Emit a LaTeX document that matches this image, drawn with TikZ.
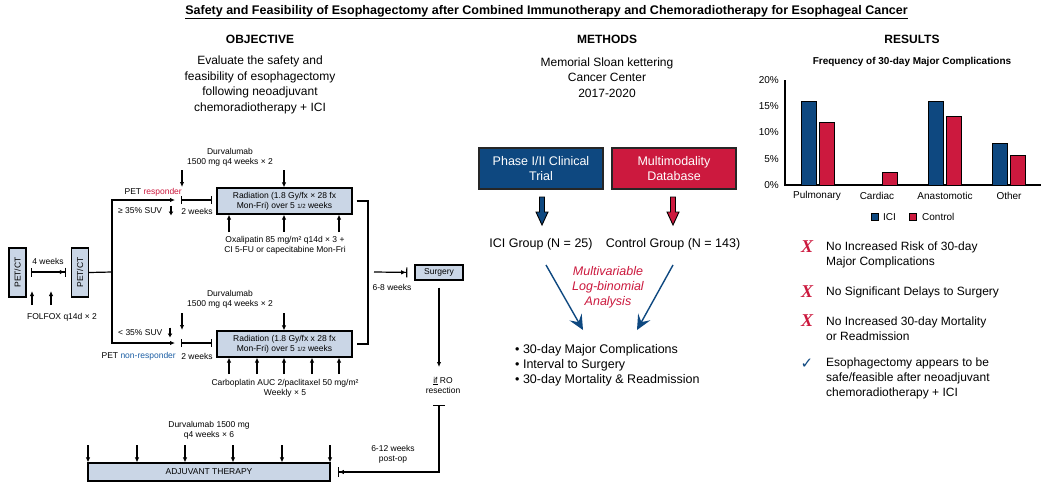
\documentclass[tikz,border=0pt]{standalone}
\usepackage{fontspec}
\setmainfont{Liberation Sans}
\newfontfamily\serifx{Liberation Serif}
\newfontfamily\dejavu{DejaVu Sans}
\usetikzlibrary{arrows.meta}
\definecolor{myblue}{RGB}{14,72,128}
\definecolor{myred}{RGB}{204,25,62}
\definecolor{lightfill}{RGB}{202,214,230}
\definecolor{nrblue}{RGB}{28,95,165}
\newcommand\fsz[2]{\fontsize{#1}{#2}\selectfont}
\tikzset{
  ln/.style={line width=1.2pt},
  arr/.style={-{Latex[length=5pt,width=4.5pt]}, line width=1.2pt},
  thickarr/.style={-{Latex[length=4pt,width=5pt]}, line width=1.6pt},
  box/.style={draw, line width=1.2pt, fill=lightfill, inner sep=0pt, align=center, font=\fsz{8.5}{10}},
  sm/.style={font=\fsz{8.5}{10}, inner sep=0pt, align=center},
  med/.style={font=\fsz{12.5}{15.5}, inner sep=0pt, align=center},
  head/.style={font=\bfseries\fsz{12}{14}, inner sep=0pt},
  bigbox/.style={draw=black!85, line width=1.2pt, text=white, font=\fsz{12.5}{14.5}, minimum width=124, minimum height=41, align=center, inner sep=0pt},
  res/.style={anchor=west, align=left, font=\fsz{12}{15}, inner sep=0pt},
  xmark/.style={font=\serifx\bfseries\itshape\fsz{18}{18}, text=myred, inner sep=0pt},
  bluearr/.style={draw=myblue, line width=1.4pt, -{Stealth[length=15pt,width=14pt,inset=6pt]}},
  barbar/.style={{Bar[width=8pt]}-{Bar[width=8pt]}, line width=1.2pt},
  bararr/.style={{Bar[width=9pt]}-{Latex[length=5pt,width=4.5pt]Bar[width=9pt]}, line width=1.2pt},
  arrbar/.style={-{Latex[length=5pt,width=4.5pt]Bar[width=10pt]}, line width=1.2pt},
  pics/fatarrow/.style={code={
    \draw[pic actions, line width=0.9pt] (-2.5,0) -- (2.5,0) -- (2.5,15) -- (6,15) -- (0,28) -- (-6,15) -- (-2.5,15) -- cycle;}},
}
\begin{document}
\begin{tikzpicture}[x=1pt,y=-1pt]
\fill[white] (0,0) rectangle (1050,490);
\useasboundingbox (0,0) rectangle (1050,490);

% ---------- title & headings ----------
\node[font=\bfseries\fsz{12.5}{14}, inner sep=0pt] (title) at (546.5,12) {\underline{Safety and Feasibility of Esophagectomy after Combined Immunotherapy and Chemoradiotherapy for Esophageal Cancer}};
\node[head] (hobj) at (260,39) {OBJECTIVE};
\node[head] (hmeth) at (607,39) {METHODS};
\node[head] (hres) at (912,39) {RESULTS};
\node[med, font=\fsz{12}{15.5}] (objtxt) at (260,85) {Evaluate the safety and\\feasibility of esophagectomy\\following neoadjuvant\\chemoradiotherapy + ICI};
\node[med, font=\fsz{12}{15.5}] (methtxt) at (607,77.5) {Memorial Sloan kettering\\Cancer Center\\2017-2020};

% ---------- left: PET/CT ----------
\node[box, rotate=90, minimum width=49, minimum height=17] (pet1) at (17.5,272.5) {PET/CT};
\node[box, rotate=90, minimum width=49, minimum height=17] (pet2) at (80,272.5) {PET/CT};
\coordinate (w1) at (31,272); \coordinate (w2) at (66,272);
\draw[bararr] (w1) -- (w2);
\node[sm] (fourw) at (48,261) {4 weeks};
\coordinate (f1s) at (32,305); \coordinate (f1e) at (32,291);
\coordinate (f2s) at (51,305); \coordinate (f2e) at (51,291);
\draw[arr] (f1s) -- (f1e); \draw[arr] (f2s) -- (f2e);
\node[sm] (folfox) at (62,317) {FOLFOX q14d × 2};

% branch
\coordinate (br) at (112,272);
\coordinate (respend) at (175,200);
\coordinate (nrespend) at (175,343);
\draw[ln] (pet2.south) -- (br);
\draw[arr] (br) |- (respend);
\draw[arr] (br) |- (nrespend);

% ---------- responder arm ----------
\node[sm, anchor=east] (resp) at (182,192) {PET \textcolor{myred}{responder}};
\node[sm, anchor=west] (suv1) at (118,211) {≥ 35\% SUV};
\coordinate (sa1) at (171,205.5); \coordinate (sb1) at (171,215.5);
\draw[thickarr] (sa1) -- (sb1);
\coordinate (tw1a) at (181,200); \coordinate (tw1b) at (212,200);
\draw[barbar] (tw1a) -- (tw1b);
\node[sm] (twl1) at (197,211) {2 weeks};
\node[sm] (durv1) at (230,157) {Durvalumab\\1500 mg q4 weeks × 2};
\node[box, minimum width=135, minimum height=26] (rad1) at (284.5,201) {Radiation (1.8 Gy/fx × 28 fx\\Mon-Fri) over 5 {\fsz{6}{6}1/2} weeks};
\coordinate (d1s) at (182,170); \coordinate (d1e) at (182,187);
\coordinate (d2s) at (284,170);
\draw[arr] (d1s) -- (d1e);
\draw[arr] (d2s) -- (d2s |- rad1.north);
\foreach \i/\xx in {1/229,2/284,3/339}{
  \coordinate (ou\i) at (\xx,232);
  \draw[arr] (ou\i) -- (ou\i |- rad1.south);
}
\node[sm] (oxa) at (285,245) {Oxalipatin 85 mg/m² q14d × 3 +\\CI 5-FU or capecitabine Mon-Fri};

% ---------- non-responder arm ----------
\node[sm] (durv2) at (230,299) {Durvalumab\\1500 mg q4 weeks × 2};
\node[sm, anchor=west] (suv2) at (118,333) {< 35\% SUV};
\coordinate (sa2) at (170,327.5); \coordinate (sb2) at (170,337.5);
\draw[thickarr] (sa2) -- (sb2);
\node[sm, anchor=east] (nresp) at (176,356) {PET \textcolor{nrblue}{non-responder}};
\coordinate (tw2a) at (181,343); \coordinate (tw2b) at (212,343);
\draw[barbar] (tw2a) -- (tw2b);
\node[sm] (twl2) at (197,356) {2 weeks};
\node[box, minimum width=135, minimum height=26] (rad2) at (284.5,344) {Radiation (1.8 Gy/fx x 28 fx\\Mon-Fri) over 5 {\fsz{6}{6}1/2} weeks};
\coordinate (d3s) at (182,313); \coordinate (d3e) at (182,330);
\coordinate (d4s) at (284,313);
\draw[arr] (d3s) -- (d3e);
\draw[arr] (d4s) -- (d4s |- rad2.north);
\foreach \i/\xx in {1/229,2/257,3/284,4/312,5/339}{
  \coordinate (cu\i) at (\xx,374);
  \draw[arr] (cu\i) -- (cu\i |- rad2.south);
}
\node[sm] (carbo) at (285,388) {Carboplatin AUC 2/paclitaxel 50 mg/m²\\Weekly × 5};

% ---------- merge & surgery ----------
\coordinate (m) at (368,272);
\draw[ln] ([xshift=4pt]rad1.east) -| (m) |- ([xshift=4pt]rad2.east);
\node[box, minimum width=48, minimum height=15] (surg) at (439,272.5) {Surgery};
\draw[arrbar, shorten >=7pt] ([xshift=6pt]m) -- (surg.west);
\node[sm] (sixeight) at (392,287) {6-8 weeks};
\coordinate (sd) at (439,367);
\draw[arr, shorten <=7pt] (surg.south) -- (sd);
\node[sm] (ro) at (443,385) {\underline{if} RO\\resection};
\coordinate (tb) at (439,405);
\node[box, minimum width=242, minimum height=18] (adj) at (209,472) {ADJUVANT THERAPY};
\draw[{Bar[width=12pt]}-{Latex[length=5pt,width=4.5pt]Bar[width=10pt]}, line width=1.2pt, shorten >=7pt] (tb) |- (adj.east);
\node[sm] (sixtwelve) at (393,454) {6-12 weeks\\post-op};
\foreach \i/\xx in {1/88,2/137,3/185,4/233,5/282,6/330}{
  \coordinate (au\i) at (\xx,445);
  \draw[arr] (au\i) -- (au\i |- adj.north);
}
\node[sm] (durv3) at (209,430) {Durvalumab 1500 mg\\q4 weeks × 6};

% ---------- methods ----------
\node[bigbox, fill=myblue] (phase) at (541,168.5) {Phase I/II Clinical\\Trial};
\node[bigbox, fill=myred] (mmdb) at (674,168.5) {Multimodality\\Database};
\pic[fill=myblue] at (542,197) {fatarrow};
\pic[fill=myred] at (673,197) {fatarrow};
\node[med] (icig) at (541,244) {ICI Group (N = 25)};
\node[med] (ctrlg) at (673,244) {Control Group (N = 143)};
\coordinate (a1s) at (546,265); \coordinate (a1e) at (583,330);
\coordinate (a2s) at (673,265); \coordinate (a2e) at (637,330);
\draw[bluearr] (a1s) -- (a1e);
\draw[bluearr] (a2s) -- (a2e);
\node[font=\itshape\fsz{12.5}{15}, text=myred, align=center, inner sep=0pt] (mva) at (608,287) {Multivariable\\Log-binomial\\Analysis};
\node[res, font=\fsz{12.5}{15}] (bul) at (515,365) {• 30-day Major Complications\\• Interval to Surgery\\• 30-day Mortality \& Readmission};

% ---------- results chart ----------
\node[font=\bfseries\fsz{10}{12}, inner sep=0pt] (freq) at (912,62) {Frequency of 30-day Major Complications};
\draw[line width=1.3pt] (785,80) -- (785,185) -- (1041,185);
\foreach \v/\yy in {20/80,15/106.25,10/132.5,5/158.75,0/185}{
  \node[font=\fsz{10}{12}, anchor=east, inner sep=0pt] at (779,\yy) {\v\%};
}
\def\sc{5.25}
\foreach \xx/\h in {801/16,928/16,992/8}{
  \draw[fill=myblue, line width=1pt] (\xx,185) rectangle (\xx+15,185-\h*\sc);
}
\foreach \xx/\h in {819/12,882/2.3,946/13,1010/5.7}{
  \draw[fill=myred, line width=1pt] (\xx,185) rectangle (\xx+15,185-\h*\sc);
}
\foreach \xx/\t in {817/Pulmonary,877/Cardiac,945/Anastomotic,1009/Other}{
  \node[font=\fsz{10}{12}, inner sep=0pt] at (\xx,196) {\t};
}
\draw[fill=myblue, line width=1pt] (871.5,213.5) rectangle (878.5,220.5);
\node[font=\fsz{10}{12}, anchor=west, inner sep=0pt] (lici) at (883,217) {ICI};
\draw[fill=myred, line width=1pt] (909.5,213.5) rectangle (916.5,220.5);
\node[font=\fsz{10}{12}, anchor=west, inner sep=0pt] (lctrl) at (922,217) {Control};

% ---------- results list ----------
\node[xmark] (x1) at (807,247) {X};
\node[xmark] (x2) at (807,292) {X};
\node[xmark] (x3) at (807,321) {X};
\node[font=\dejavu\fsz{15}{15}, text=myblue, inner sep=0pt] (ck) at (807,364) {✓};
\node[res] (r1) at (826,254.5) {No Increased Risk of 30-day\\Major Complications};
\node[res] (r2) at (826,292) {No Significant Delays to Surgery};
\node[res] (r3) at (826,328.5) {No Increased 30-day Mortality\\or Readmission};
\node[res] (r4) at (826,378.5) {Esophagectomy appears to be\\safe/feasible after neoadjuvant\\chemoradiotherapy + ICI};
\end{tikzpicture}
\end{document}
